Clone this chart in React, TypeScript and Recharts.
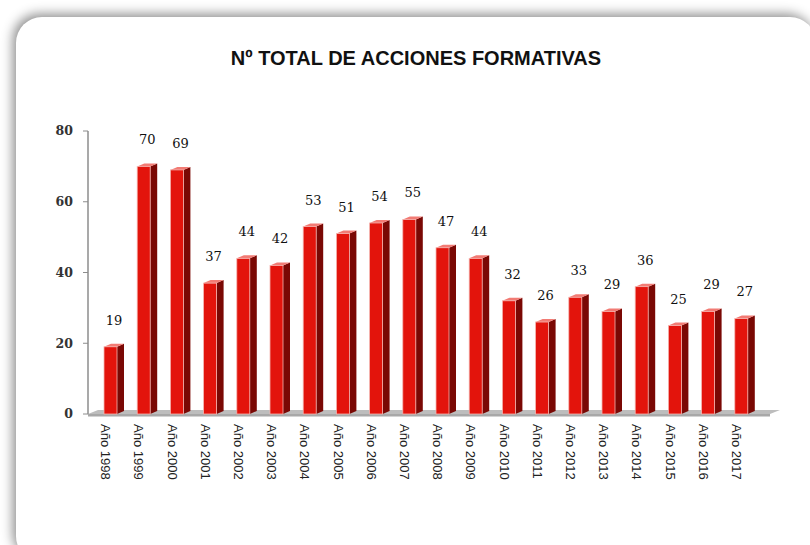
import React from 'react'
import { BarChart, Bar, XAxis, YAxis, LabelList, usePlotArea } from 'recharts'

// Nº total de acciones formativas por año
const years = [
  'Año 1998', 'Año 1999', 'Año 2000', 'Año 2001', 'Año 2002',
  'Año 2003', 'Año 2004', 'Año 2005', 'Año 2006', 'Año 2007',
  'Año 2008', 'Año 2009', 'Año 2010', 'Año 2011', 'Año 2012',
  'Año 2013', 'Año 2014', 'Año 2015', 'Año 2016', 'Año 2017',
]
const acciones = [19, 70, 69, 37, 44, 42, 53, 51, 54, 55, 47, 44, 32, 26, 33, 29, 36, 25, 29, 27]
const yTicks = [0, 20, 40, 60, 80]

const data = years.map((year, i) => ({ year, acciones: acciones[i] }))

const FRONT = '#E3140C'
const SIDE = '#7A0804'
const TOP = '#F27B74'
const DEPTH = 7
const RISE = 3

// barra con efecto 3D: cara frontal, lateral y tapa
const Bar3D = (props: any) => {
  const { x, y, width, height } = props
  if (height == null || height <= 0) return null
  const fw = width - DEPTH
  const bottom = y + height
  return (
    <g>
      <polygon
        points={`${x + fw},${y} ${x + width},${y - RISE} ${x + width},${bottom - RISE} ${x + fw},${bottom}`}
        fill={SIDE}
      />
      <polygon
        points={`${x},${y} ${x + DEPTH},${y - RISE} ${x + width},${y - RISE} ${x + fw},${y}`}
        fill={TOP}
      />
      <rect x={x} y={y} width={fw} height={height} fill={FRONT} stroke="#F6B5B0" strokeWidth={0.8} />
    </g>
  )
}

// suelo gris del gráfico
const Floor = () => {
  const area = usePlotArea()
  if (!area) return null
  const y0 = area.y + area.height
  const x0 = area.x
  const x1 = area.x + area.width + 4
  return (
    <g>
      <polygon
        points={`${x0},${y0} ${x0 + 10},${y0 - 4} ${x1 + 10},${y0 - 4} ${x1},${y0}`}
        fill="#BDBDBD"
      />
      <rect x={x0} y={y0} width={x1 - x0} height={2.5} fill="#A8A8A8" />
    </g>
  )
}

const YearTick = (props: any) => {
  const { x, y, payload } = props
  return (
    <text
      transform={`translate(${x - 8},${y + 2}) rotate(90)`}
      textAnchor="start"
      dominantBaseline="central"
      fontFamily="'Liberation Sans', Arial, sans-serif"
      fontSize={13}
      fill="#222"
    >
      {payload.value}
    </text>
  )
}

export default function App() {
  return (
    <div style={{ position: 'absolute', left: 0, top: 0, width: 810, height: 545, background: '#fff', overflow: 'hidden' }}>
      <div
        style={{
          position: 'absolute',
          left: 16,
          top: 17,
          width: 800,
          height: 545,
          background: '#fff',
          borderRadius: 26,
          boxShadow: '-3px -3px 12px rgba(0,0,0,0.45)',
        }}
      />
      <div
        style={{
          position: 'absolute',
          left: 0,
          top: 47,
          width: 832,
          textAlign: 'center',
          fontFamily: "'Liberation Sans', Arial, sans-serif",
          fontWeight: 'bold',
          fontSize: 20,
          color: '#111',
        }}
      >
        Nº TOTAL DE ACCIONES FORMATIVAS
      </div>
      <div style={{ position: 'absolute', left: 0, top: 0 }}>
        <BarChart width={810} height={545} data={data} margin={{ top: 131, right: 44, bottom: 101, left: 40 }}>
          <Floor />
          <XAxis
            dataKey="year"
            axisLine={false}
            tickLine={false}
            interval={0}
            padding={{ left: 9, right: 5 }}
            tick={<YearTick />}
          />
          <YAxis
            width={48}
            domain={[0, 80]}
            ticks={yTicks}
            axisLine={{ stroke: '#8C8C8C', strokeWidth: 1.5 }}
            tickLine={{ stroke: '#8C8C8C' }}
            tickSize={5}
            tickMargin={10}
            tick={{ fontFamily: "'DejaVu Serif', serif", fontWeight: 'bold', fontSize: 12.5, fill: '#333' }}
          />
          <Bar dataKey="acciones" barSize={20} shape={<Bar3D />} isAnimationActive={false}>
            <LabelList
              dataKey="acciones"
              position="top"
              offset={22}
              style={{ fontFamily: "'DejaVu Serif', serif", fontSize: 13, fill: '#111' }}
            />
          </Bar>
        </BarChart>
      </div>
    </div>
  )
}
